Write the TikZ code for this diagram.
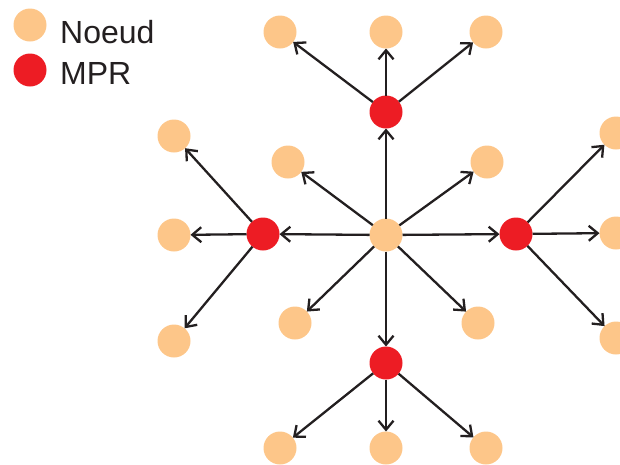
\documentclass[tikz,border=0pt]{standalone}
\usepackage{fontspec}
\setmainfont{Liberation Sans}
\usetikzlibrary{arrows.meta}
\definecolor{noeudorange}{HTML}{FDC689}
\definecolor{mprred}{HTML}{ED1C24}
\definecolor{inkblack}{HTML}{231F20}
\tikzset{
  net node/.style={
    circle, fill=noeudorange, draw=none,
    minimum size=33pt, inner sep=0pt, outer sep=0pt
  },
  net mpr/.style={
    net node, fill=mprred
  },
  net arrow/.style={
    -{Straight Barb[length=9pt,width=15pt]}, line width=2.3pt, draw=inkblack
  },
  net legend/.style={
    anchor=base west, text=inkblack, inner sep=0pt,
    font=\fontsize{32}{38}\selectfont
  }
}

\begin{document}
\begin{tikzpicture}[x=1pt, y=-1pt]
  \useasboundingbox (0,0) rectangle (620,464);

  % legend
  \node (lgn) [net node] at (30,25) {};
  \node (lgm) [net mpr] at (30,70) {};
  \node (lgntext) [net legend] at (60,43) {Noeud};
  \node (lgmtext) [net legend] at (60,84) {MPR};

  % source node and its relays
  \node (c) [net node] at (386,235) {};
  \node (mT) [net mpr] at (386,112) {};
  \node (mL) [net mpr] at (263,234) {};
  \node (mR) [net mpr] at (516,234) {};
  \node (mB) [net mpr] at (386,363) {};

  % one-hop neighbours
  \node (d1) [net node] at (288,162) {};
  \node (d2) [net node] at (487,162) {};
  \node (d3) [net node] at (295,323) {};
  \node (d4) [net node] at (478,323) {};

  % two-hop neighbours
  \node (t1) [net node] at (280,32) {};
  \node (t2) [net node] at (386,32) {};
  \node (t3) [net node] at (486,32) {};
  \node (l1) [net node] at (174,136) {};
  \node (l2) [net node] at (174,235) {};
  \node (l3) [net node] at (174,341) {};
  \node (r1) [net node] at (616,133) {};
  \node (r2) [net node] at (616,233) {};
  \node (r3) [net node] at (616,338) {};
  \node (b1) [net node] at (280,448) {};
  \node (b2) [net node] at (386,448) {};
  \node (b3) [net node] at (486,448) {};

  \foreach \to in {mT, mL, mR, mB, d1, d2, d3, d4}
    \draw [net arrow] (c) -- (\to);

  \foreach \to in {t1, t2, t3}
    \draw [net arrow] (mT) -- (\to);
  \foreach \to in {l1, l2, l3}
    \draw [net arrow] (mL) -- (\to);
  \foreach \to in {r1, r2, r3}
    \draw [net arrow] (mR) -- (\to);
  \foreach \to in {b1, b2, b3}
    \draw [net arrow] (mB) -- (\to);
\end{tikzpicture}
\end{document}
